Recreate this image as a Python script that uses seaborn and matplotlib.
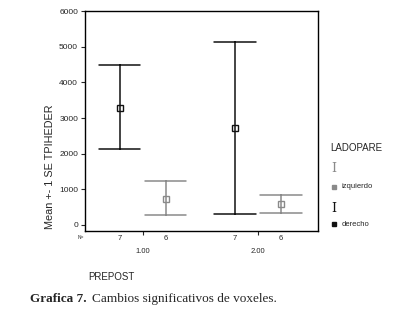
import numpy as np
import pandas as pd
import seaborn as sns
import matplotlib.pyplot as plt
from matplotlib.lines import Line2D

groups = ["1.00", "2.00"]
sides = ["derecho", "izquierdo"]
mean_vals = {"derecho": [3270, 2730], "izquierdo": [720, 600]}
upper_vals = {"derecho": [4500, 5120], "izquierdo": [1220, 830]}
lower_vals = {"derecho": [2130, 300], "izquierdo": [270, 330]}
n_vals = {"derecho": [7, 7], "izquierdo": [6, 6]}
yticks = [0, 1000, 2000, 3000, 4000, 5000, 6000]

# long table: lower / mean / upper per cell, median -> mean, 100% interval -> +-1 SE
rows = []
for s in sides:
    for i, g in enumerate(groups):
        for v in (lower_vals[s][i], mean_vals[s][i], upper_vals[s][i]):
            rows.append({"PREPOST": g, "LADOPARE": s, "val": v})
df = pd.DataFrame(rows)

sns.set_style("white")
plt.rcParams["font.family"] = ["Liberation Sans", "DejaVu Sans"]

fig = plt.figure(figsize=(4.14, 3.15), dpi=100)
ax = fig.add_axes([0.2053, 0.2667, 0.5628, 0.698])

pal = {"derecho": "#111111", "izquierdo": "#8a8a8a"}
sns.pointplot(data=df, x="PREPOST", y="val", hue="LADOPARE", order=groups,
              hue_order=sides, palette=pal, estimator="median",
              errorbar=("pi", 100), dodge=0.4, linestyle="none", markers="s",
              capsize=0.36, err_kws={"linewidth": 1.1}, markersize=4,
              markerfacecolor="white", markeredgewidth=1.0, legend=False, ax=ax)

ax.set_xlim(-0.5, 1.52)
ax.set_ylim(-170, 6000)
ax.set_yticks(yticks)
ax.set_yticklabels([str(t) for t in yticks], fontsize=6)
ax.set_xticks([0, 1])
ax.set_xticklabels(groups, fontsize=5.5)
ax.tick_params(axis="y", length=3, width=0.8, pad=2, direction="out", left=True)
ax.tick_params(axis="x", length=3, width=0.8, pad=9, direction="out", bottom=True)
ax.set_xlabel("")
ax.set_ylabel("Mean +- 1 SE TPIHEDER", fontsize=7.8)
ax.yaxis.set_label_coords(-0.13, 0.29)
for sp in ax.spines.values():
    sp.set_visible(True)
    sp.set_color("black")
    sp.set_linewidth(1.0)

# N= row under the axis
trans = ax.get_xaxis_transform()
ax.text(-0.505, -0.03, "N=", fontsize=3.5, transform=trans, ha="right", va="center")
for j, s in enumerate(sides):
    for i in range(len(groups)):
        ax.text(i - 0.2 + 0.4 * j, -0.035, str(n_vals[s][i]), fontsize=5.5,
                transform=trans, ha="center", va="center")

fig.text(88 / 414, 1 - 277 / 315, "PREPOST", fontsize=7, va="center")

# legend drawn by hand
fig.text(330 / 414, 1 - 148 / 315, "LADOPARE", fontsize=7, va="center")
leg_y = [(169, 187, "izquierdo"), (208, 224, "derecho")]
for ys, yb, lab in leg_y:
    c = pal[lab]
    fig.text(334 / 414, 1 - ys / 315, "I", fontsize=9, family="DejaVu Serif",
             color=c, ha="center", va="center")
    fig.add_artist(Line2D([334 / 414], [1 - yb / 315], marker="s", markersize=3.5,
                          color=c, linestyle="none", transform=fig.transFigure))
    fig.text(342 / 414, 1 - yb / 315, lab, fontsize=5.5, va="center")

cap_y = 1 - 299 / 315
t1 = fig.text(30 / 414, cap_y, "Grafica 7.", fontsize=9.5, family="Liberation Serif",
              fontweight="bold", va="center")
fig.canvas.draw()
x_end = t1.get_window_extent().x1
fig.text((x_end + 5) / 414, cap_y, "Cambios significativos de voxeles.", fontsize=9.5,
         family="Liberation Serif", va="center")

fig.savefig("out.png", dpi=100)
